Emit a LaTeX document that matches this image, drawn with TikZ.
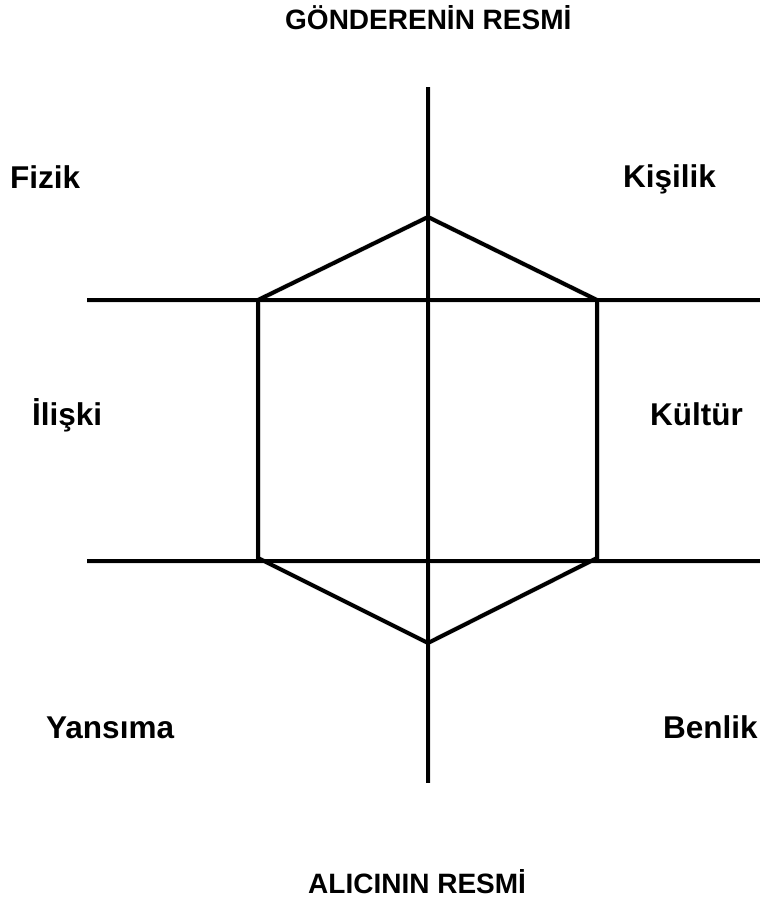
\documentclass[tikz,border=0pt]{standalone}
\usepackage{fontspec}
\setmainfont{Liberation Sans}
\tikzset{
  lbl/.style={font=\fontsize{31.5}{36}\selectfont\bfseries, inner sep=0pt, anchor=base west},
  ttl/.style={font=\fontsize{28}{32}\selectfont\bfseries, inner sep=0pt, anchor=base west},
  axisline/.style={line width=4pt, black},
  hexline/.style={line width=4pt, black, line join=miter},
  shadowline/.style={line width=5pt, black!10}
}
\begin{document}
\begin{tikzpicture}[x=1pt,y=-1pt]
\useasboundingbox (0,0) rectangle (760,902);
% coordinates
\coordinate (vt) at (428,87);
\coordinate (vb) at (428,783);
\coordinate (h1l) at (87,300);
\coordinate (h1r) at (760,300);
\coordinate (h2l) at (87,561);
\coordinate (h2r) at (760,561);
\coordinate (ht) at (428,217);
\coordinate (hur) at (597,300);
\coordinate (hlr) at (597,558);
\coordinate (hb) at (428,643);
\coordinate (hll) at (258,558);
\coordinate (hul) at (258,300);
% shadows
\begin{scope}[yshift=-3pt]
\draw[shadowline] (vt) -- (vb);
\draw[shadowline] (h1l) -- (h1r);
\draw[shadowline] (h2l) -- (h2r);
\draw[shadowline] (ht) -- (hur) -- (hlr) -- (hb) -- (hll) -- (hul) -- cycle;
\end{scope}
% lines
\draw[axisline] (vt) -- (vb);
\draw[axisline] (h1l) -- (h1r);
\draw[axisline] (h2l) -- (h2r);
\draw[hexline] (ht) -- (hur) -- (hlr) -- (hb) -- (hll) -- (hul) -- cycle;
% texts
\node[ttl] (top) at (285,29) {GÖNDERENİN RESMİ};
\node[ttl] (bottom) at (308,893) {ALICININ RESMİ};
\node[lbl] (fizik) at (10,188) {Fizik};
\node[lbl] (kisilik) at (623,187) {Kişilik};
\node[lbl] (iliski) at (32,425) {İlişki};
\node[lbl] (kultur) at (650,425) {Kültür};
\node[lbl] (yansima) at (46,738) {Yansıma};
\node[lbl] (benlik) at (663,738) {Benlik};
\end{tikzpicture}
\end{document}
